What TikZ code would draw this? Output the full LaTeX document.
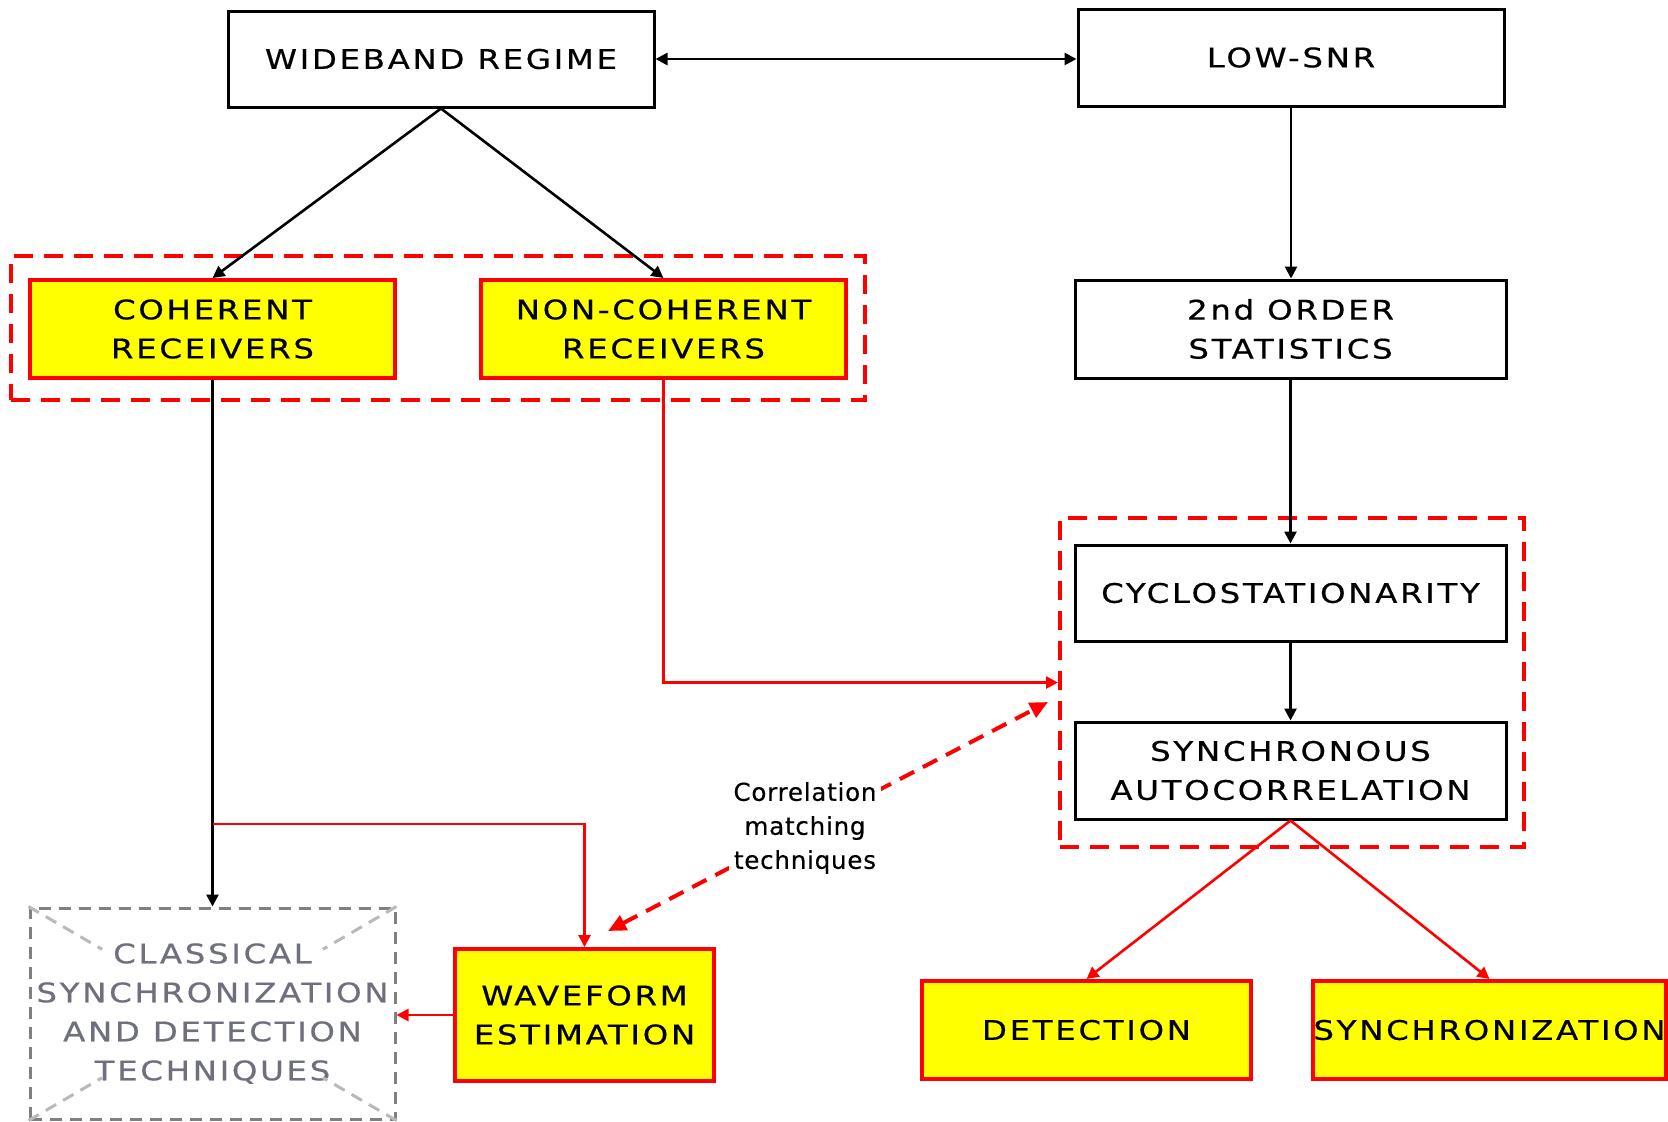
\documentclass[tikz,border=0pt]{standalone}
\usepackage{fontspec}
\usetikzlibrary{arrows.meta,calc}
\newfontfamily\bxf{DejaVu Sans}[LetterSpace=10,FakeStretch=1.2,FakeBold=0.5]
\newfontfamily\lbf{DejaVu Sans}[LetterSpace=3,FakeBold=0.3]
\definecolor{clgray}{RGB}{110,112,125}
\definecolor{clborder}{RGB}{128,128,128}
\definecolor{cldiag}{RGB}{185,185,185}
\definecolor{yfill}{RGB}{255,255,0}
\tikzset{
  plainbox/.style={draw=black,line width=1.5pt,fill=white,inner sep=0pt,align=center,
    font=\bxf\fontsize{13.5}{19.5}\selectfont},
  ybox/.style={draw=red,line width=2pt,fill=yfill,inner sep=0pt,align=center,
    font=\bxf\fontsize{13.5}{19.5}\selectfont},
  clbox/.style={draw=clborder,line width=1.5pt,dash pattern=on 6pt off 4pt,fill=white,inner sep=0pt,align=center,
    text=clgray,font=\bxf\fontsize{13.5}{19.5}\selectfont},
  grp/.style={draw=red,line width=2pt,dash pattern=on 9.5pt off 5.5pt,inner sep=0pt},
  arr/.style={draw=black,line width=1.3pt,-{Triangle[length=6pt,width=6pt]}},
  darr/.style={draw=black,line width=1.3pt,{Triangle[length=6pt,width=6pt]}-{Triangle[length=6pt,width=6pt]}},
  rarr/.style={draw=red,line width=1.3pt,-{Triangle[length=6pt,width=6pt]}},
  rdarr/.style={draw=red,line width=2pt,dash pattern=on 8pt off 5pt,
    {Triangle[length=9pt,width=8pt]}-{Triangle[length=9pt,width=8pt]}},
  diag/.style={draw=cldiag,line width=1.5pt,dash pattern=on 6pt off 4pt},
  lbl/.style={fill=white,inner sep=2pt,align=center,font=\lbf\fontsize{12.3}{17}\selectfont}
}
\begin{document}
\begin{tikzpicture}[x=0.5pt,y=-0.5pt]
\useasboundingbox (0,0) rectangle (1668,1121);
% groups
\node[grp,minimum width=427pt,minimum height=72pt] (g1) at (438,328) {};
\node[grp,minimum width=232pt,minimum height=164.5pt] (g2) at (1292,682.5) {};
% boxes
\node[plainbox,minimum width=213pt,minimum height=48pt] (wb) at (441,59) {WIDEBAND REGIME};
\node[plainbox,minimum width=213pt,minimum height=48.5pt] (low) at (1291,57.5) {LOW-SNR};
\node[ybox,minimum width=182.5pt,minimum height=49pt] (coh) at (212.5,329) {COHERENT\\RECEIVERS};
\node[ybox,minimum width=182.5pt,minimum height=49pt] (ncoh) at (663.5,329) {NON-COHERENT\\RECEIVERS};
\node[plainbox,minimum width=215.5pt,minimum height=49pt] (so) at (1290.5,329) {2nd ORDER\\STATISTICS};
\node[plainbox,minimum width=215.5pt,minimum height=48pt] (cyc) at (1290.5,593) {CYCLOSTATIONARITY};
\node[plainbox,minimum width=215.5pt,minimum height=48.5pt] (sa) at (1290.5,770.5) {SYNCHRONOUS\\AUTOCORRELATION};
\node[clbox,minimum width=182.5pt,minimum height=105.5pt] (cl) at (212.5,1013.5) {CLASSICAL\\SYNCHRONIZATION\\AND DETECTION\\TECHNIQUES};
\foreach \a/\b in {north west/south east,south east/north west,north east/south west,south west/north east}{
  \draw[diag] (cl.\a) -- ($(cl.\a)!0.2!(cl.\b)$);
}
\node[ybox,minimum width=129.5pt,minimum height=66pt] (wf) at (584.5,1015) {WAVEFORM\\ESTIMATION};
\node[ybox,minimum width=164.5pt,minimum height=49pt] (det) at (1086.5,1030) {DETECTION};
\node[ybox,minimum width=176.5pt,minimum height=49pt] (sync) at (1489.5,1030) {SYNCHRONIZATION};
% connectors
\draw[darr] (wb.east) -- (wb.east -| low.west);
\draw[arr] (wb.south) -- (coh.north);
\draw[arr] (wb.south) -- (ncoh.north);
\draw[arr] (low.south) -- (low.south |- so.north);
\draw[arr] (so.south) -- (cyc.north);
\draw[arr] (cyc.south) -- (sa.north);
\draw[arr] (coh.south) -- (cl.north);
\coordinate (tap) at (212.5,824);
\draw[rarr] (tap) -| (wf.north);
\draw[rarr] (ncoh.south) |- (g2.west);
\draw[rarr] (wf.west) -- (wf.west -| cl.east);
\draw[rarr] (sa.south) -- (det.north);
\draw[rarr] (sa.south) -- (sync.north);
\coordinate (ca) at (608,931);
\coordinate (cb) at (1048,702);
\draw[rdarr] (ca) -- (cb);
\node[lbl] (cm) at (805,828) {Correlation\\matching\\techniques};
\end{tikzpicture}
\end{document}
